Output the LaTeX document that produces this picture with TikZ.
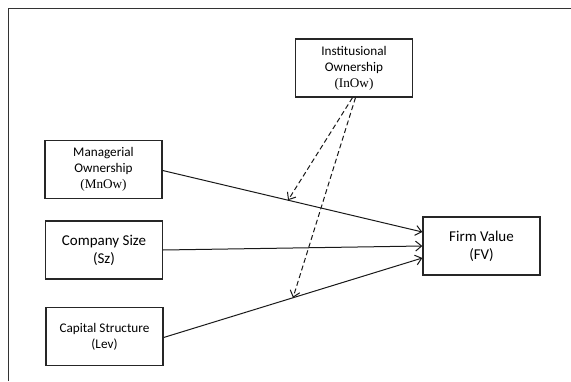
\documentclass[tikz,border=0pt]{standalone}
\usepackage{fontspec}
\setmainfont{Carlito}
\newfontfamily\tnr{Liberation Serif}
\usetikzlibrary{arrows.meta}
\begin{document}
\begin{tikzpicture}[x=1pt,y=1pt,
  box/.style={draw=black!85,line width=1.3pt,minimum width=117pt,minimum height=58pt,align=center,inner sep=0pt},
  small/.style={font=\fontsize{13.2}{16}\selectfont},
  big/.style={font=\fontsize{15}{18}\selectfont},
  conn/.style={draw=black!90,line width=1pt,-{Straight Barb[length=6pt,width=10pt,line width=1pt]}},
  mod/.style={conn,dash pattern=on 5pt off 3pt}]
\useasboundingbox (0,0) rectangle (571,381);
\draw[black!80,line width=1pt] (8,0) -- (8,372) -- (571,372);
\node[box,small] (inow) at (354,313) {Institusional\\Ownership\\{\tnr (InOw)}};
\node[box,small] (mnow) at (103.5,211.5) {Managerial\\Ownership\\{\tnr (MnOw)}};
\node[box,big] (sz) at (104,131) {Company Size\\(Sz)};
\node[box,small] (lev) at (104.5,44.5) {Capital Structure\\(Lev)};
\node[box,big] (fv) at (481.5,135) {Firm Value\\(FV)};
\coordinate (fv1) at ([yshift=14pt]fv.west);
\coordinate (fv2) at (fv.west);
\coordinate (fv3) at ([yshift=-12pt]fv.west);
\coordinate (mnout) at ([yshift=-1pt]mnow.east);
\coordinate (levout) at ([yshift=-1pt]lev.east);
\draw[conn] (mnout) -- coordinate[pos=0.483] (m1) (fv1);
\draw[conn] (sz.east) -- (fv2);
\draw[conn] (levout) -- coordinate[pos=0.5] (m2) (fv3);
\coordinate (s1) at ([xshift=-1.5pt]inow.south);
\coordinate (s2) at ([xshift=1.5pt]inow.south);
\draw[mod] (s1) -- (m1);
\draw[mod] (s2) -- (m2);
\end{tikzpicture}
\end{document}
